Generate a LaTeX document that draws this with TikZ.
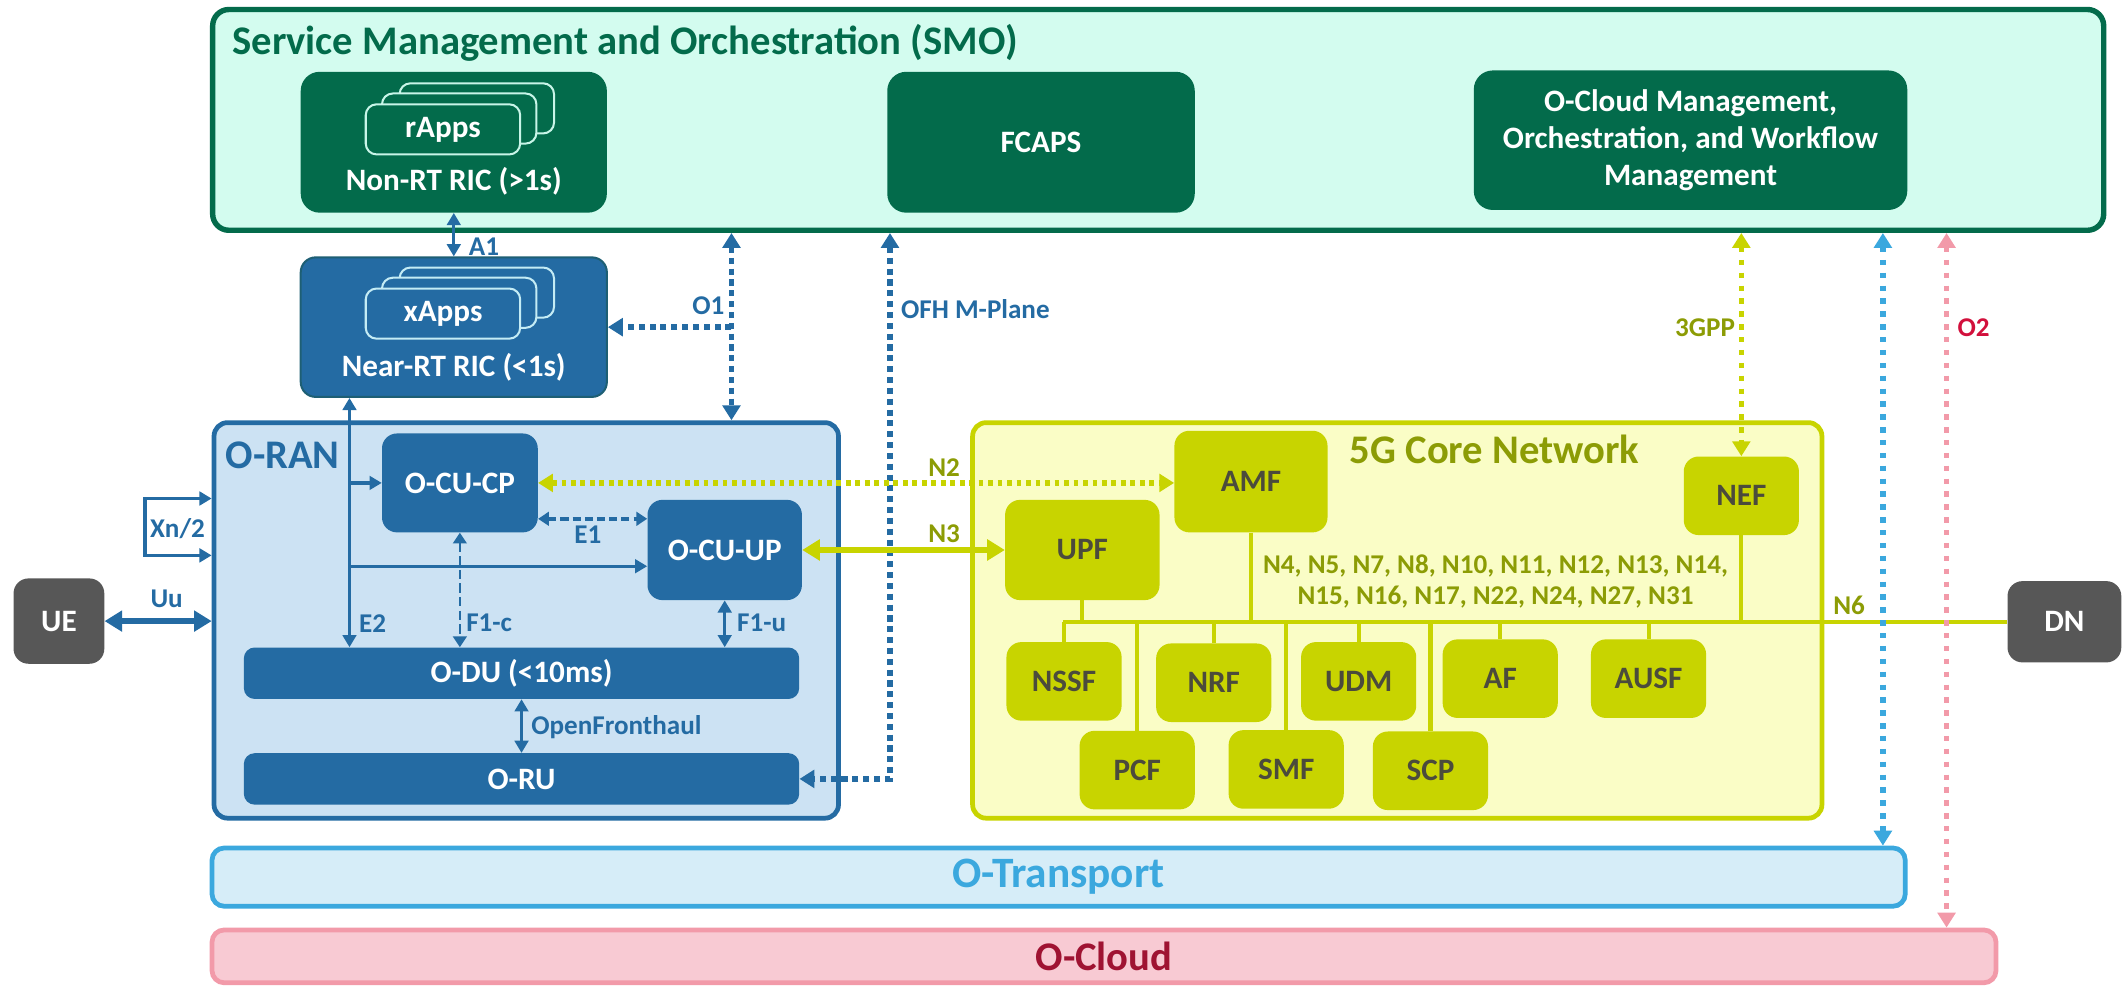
\documentclass[tikz,border=0pt]{standalone}
\usepackage{fontspec}
\setmainfont{Carlito}
\usetikzlibrary{arrows.meta}

\definecolor{smogreen}{HTML}{036B4B}
\definecolor{smofill}{HTML}{D3FCEF}
\definecolor{ranblue}{HTML}{246BA3}
\definecolor{ranfill}{HTML}{CCE2F3}
\definecolor{nearline}{HTML}{1E5F74}
\definecolor{coreline}{HTML}{C8D400}
\definecolor{corefill}{HTML}{FAFDC6}
\definecolor{olive}{HTML}{8C9C05}
\definecolor{nftext}{HTML}{4B4B3C}
\definecolor{darkgrey}{HTML}{575757}
\definecolor{tpblue}{HTML}{3BA8DE}
\definecolor{tpfill}{HTML}{D6EDF8}
\definecolor{cloudline}{HTML}{F29AA9}
\definecolor{cloudfill}{HTML}{F8CAD3}
\definecolor{cloudtext}{HTML}{9F1332}
\definecolor{otwored}{HTML}{D2103C}
\definecolor{cardmint}{HTML}{C8F5E8}
\definecolor{cardcyan}{HTML}{C4ECF5}

\tikzset{
  title font/.style = {font = \fontsize{30}{34}\selectfont\bfseries},
  box font/.style = {font = \fontsize{23}{27.5}\selectfont\bfseries},
  lbl/.style = {font = \fontsize{20}{23}\selectfont\bfseries, text = ranblue, inner sep = 0pt},
  wh/.style 2 args = {minimum width = #1pt, minimum height = #2pt, inner sep = 0pt},
  smo box/.style = {fill = smogreen, rounded corners = 14pt, text = white, box font, align = center},
  ran box/.style = {fill = ranblue, rounded corners = 11pt, text = white, box font},
  nf box/.style = {fill = coreline, rounded corners = 11pt, text = nftext, box font, wh = {85}{58}},
  grey box/.style = {fill = darkgrey, rounded corners = 11pt, text = white, box font},
  card/.style = {draw = #1, line width = 1.5pt, rounded corners = 8pt, wh = {114}{37}},
  blue arrow/.style = {draw = ranblue, line width = 2.5pt, >={Triangle[length = 9pt, width = 10pt]}},
  blue fat arrow/.style = {draw = ranblue, line width = 4pt, >={Triangle[length = 13pt, width = 15pt]}},
  blue dots/.style = {draw = ranblue, line width = 4pt, dash pattern = on 4.5pt off 3.5pt, >={Triangle[length = 11pt, width = 13pt]}},
  blue dashes/.style = {draw = ranblue, line width = 2.5pt, dash pattern = on 6pt off 3pt, >={Triangle[length = 8pt, width = 10pt]}},
  core dots/.style = {draw = coreline, line width = 4pt, dash pattern = on 3.5pt off 3.5pt, >={Triangle[length = 11pt, width = 13pt]}},
  core fat arrow/.style = {draw = coreline, line width = 5pt, >={Triangle[length = 13pt, width = 15pt]}},
  bus line/.style = {draw = coreline, line width = 3pt},
  far dots/.style = {draw = #1, line width = 4pt, dash pattern = on 4pt off 5.5pt, >={Triangle[length = 11pt, width = 13pt]}}
}

\begin{document}
\begin{tikzpicture}[x = 1pt, y = -1pt]
    \useasboundingbox (0, 0) rectangle (1568, 729);

    \node[draw = smogreen, fill = smofill, line width = 4pt, rounded corners = 12pt, wh = {1396}{163}] (smo) at (855, 88.5) {};
    \node[title font, text = smogreen, anchor = west] (smo title) at (168, 32) {Service Management and Orchestration (SMO)};
    \node[smo box, wh = {226}{104}] (non rt ric) at (335, 105) {};
    \node[card = cardmint, fill = smogreen] (rapps back) at (352, 80) {};
    \node[card = cardmint, fill = smogreen] (rapps mid) at (339, 87.5) {};
    \node[card = cardmint, fill = smogreen, box font, text = white] (rapps) at (327, 95.5) {rApps};
    \node[box font, text = white] (non rt text) at (335, 134) {Non-RT RIC (>1s)};
    \node[smo box, wh = {227}{104}] (fcaps) at (768.5, 105) {FCAPS};
    \node[smo box, wh = {320}{103}] (cloud mgmt) at (1248, 103.5) {O-Cloud Management,\\ Orchestration, and Workflow\\ Management};

    \node[ran box, draw = nearline, line width = 1.5pt, wh = {226}{103}] (near rt ric) at (335, 241.5) {};
    \node[card = cardcyan, fill = ranblue] (xapps back) at (352, 216) {};
    \node[card = cardcyan, fill = ranblue] (xapps mid) at (339, 223.5) {};
    \node[card = cardcyan, fill = ranblue, box font, text = white] (xapps) at (327, 231.5) {xApps};
    \node[box font, text = white] (near rt text) at (335, 271) {Near-RT RIC (<1s)};

    \node[draw = ranblue, fill = ranfill, line width = 3.5pt, rounded corners = 10pt, wh = {461}{292}] (o ran) at (388.5, 458) {};
    \node[title font, text = ranblue, anchor = west] (o ran title) at (163, 336) {O-RAN};
    \node[ran box, wh = {115}{73}] (o cu cp) at (339.5, 356.5) {O-CU-CP};
    \node[ran box, wh = {114}{74}] (o cu up) at (535, 406) {O-CU-UP};
    \node[ran box, rounded corners = 8pt, wh = {410}{38}] (o du) at (385, 497) {O-DU (<10ms)};
    \node[ran box, rounded corners = 8pt, wh = {410}{38}] (o ru) at (385, 575) {O-RU};
    \node[grey box, wh = {67}{63}] (ue) at (43.5, 458.5) {UE};

    \node[draw = coreline, fill = corefill, line width = 3.5pt, rounded corners = 10pt, wh = {627}{292}] (core) at (1031.5, 458) {};
    \node[title font, text = olive, anchor = west] (core title) at (993, 332) {5G Core Network};
    \node[nf box, wh = {113}{75}] (amf) at (923.5, 355.5) {AMF};
    \node[nf box, wh = {114}{74}] (upf) at (799, 406) {UPF};
    \node[nf box] (nef) at (1285.5, 366) {NEF};
    \node[nf box] (nssf) at (785.5, 503) {NSSF};
    \node[nf box] (nrf) at (896, 504) {NRF};
    \node[nf box] (udm) at (1003, 503) {UDM};
    \node[nf box] (af) at (1107.5, 501) {AF};
    \node[nf box] (ausf) at (1217, 501) {AUSF};
    \node[nf box] (pcf) at (839.5, 568.5) {PCF};
    \node[nf box] (smf) at (949.5, 568) {SMF};
    \node[nf box] (scp) at (1056, 569) {SCP};
    \node[grey box, wh = {84}{60}] (dn) at (1524, 459) {DN};

    \node[draw = tpblue, fill = tpfill, line width = 3.5pt, rounded corners = 9pt, wh = {1250}{43}, title font, font = \fontsize{32}{34}\selectfont\bfseries, text = tpblue] (o transport) at (781.5, 647.5) {O-Transport};
    \node[draw = cloudline, fill = cloudfill, line width = 3.5pt, rounded corners = 9pt, wh = {1317}{39}, title font, text = cloudtext] (o cloud) at (815, 706) {O-Cloud};

    \coordinate (o1 x) at (540, 0);
    \coordinate (o1 tap) at (540, 241.5);
    \coordinate (ofh x) at (657, 0);
    \coordinate (e2 x) at (258, 0);
    \coordinate (e2 up) at (258, 418);
    \coordinate (e1 y) at (0, 383);
    \coordinate (xn top) at (107, 368);
    \coordinate (xn bottom) at (107, 410);
    \coordinate (bus) at (785, 459);
    \coordinate (tp x) at (1390, 0);
    \coordinate (o2 x) at (1437, 0);

    \draw[blue arrow, <->] (non rt ric.south) -- (near rt ric.north);
    \node[lbl, anchor = west] (a1) at (346, 182) {A1};
    \draw[blue dots, <->] (smo.south -| o1 x) -- (o ran.north -| o1 x);
    \draw[blue dots, ->] (o1 tap) -- (near rt ric.east);
    \node[lbl, anchor = east] (o1) at (535, 226) {O1};
    \draw[blue dots, <->] (smo.south -| ofh x) |- (o ru.east);
    \node[lbl, anchor = west] (ofh) at (665, 228) {OFH M-Plane};

    \draw[blue arrow, <->] (near rt ric.south -| e2 x) -- (o du.north -| e2 x);
    \draw[blue arrow, ->] (o cu cp.west -| e2 x) -- (o cu cp.west);
    \draw[blue arrow, ->] (e2 up) -- (o cu up.west |- e2 up);
    \node[lbl, anchor = west] (e2) at (265, 460) {E2};
    \draw[blue dashes, <->] (o cu cp.east |- e1 y) -- (o cu up.west |- e1 y);
    \node[lbl] (e1) at (434, 395) {E1};
    \draw[blue dashes, line width = 2pt, dash pattern = on 7pt off 3pt, <->] (o cu cp.south) -- (o du.north -| o cu cp.south);
    \node[lbl, anchor = west] (f1c) at (344, 460) {F1-c};
    \draw[blue arrow, <->] (o cu up.south) -- (o du.north -| o cu up.south);
    \node[lbl, anchor = west] (f1u) at (544, 460) {F1-u};
    \draw[blue arrow, <->] (o du.south) -- (o ru.north);
    \node[lbl, anchor = west] (fronthaul) at (392, 537) {OpenFronthaul};

    \draw[blue arrow, <->] (o ran.west |- xn top) -- (xn top) -- (xn bottom) -- (o ran.west |- xn bottom);
    \node[lbl] (xn) at (131, 390) {Xn/2};
    \draw[blue fat arrow, <->] (ue.east) -- (o ran.west |- ue.east);
    \node[lbl] (uu) at (123, 442) {Uu};

    \draw[core dots, <->] (o cu cp.east) -- (amf.west |- o cu cp.east);
    \node[lbl, text = olive] (n2) at (697, 345) {N2};
    \draw[core fat arrow, <->] (o cu up.east) -- (upf.west);
    \node[lbl, text = olive] (n3) at (697, 394) {N3};

    \draw[bus line] (bus) -- (dn.west);
    \draw[bus line] (upf.south) -- (upf.south |- bus);
    \draw[bus line] (amf.south) -- (amf.south |- bus);
    \draw[bus line] (nef.south) -- (nef.south |- bus);
    \draw[bus line] (nssf.north) -- (nssf.north |- bus);
    \draw[bus line] (nrf.north) -- (nrf.north |- bus);
    \draw[bus line] (udm.north) -- (udm.north |- bus);
    \draw[bus line] (af.north) -- (af.north |- bus);
    \draw[bus line] (ausf.north) -- (ausf.north |- bus);
    \draw[bus line] (pcf.north) -- (pcf.north |- bus);
    \draw[bus line] (smf.north) -- (smf.north |- bus);
    \draw[bus line] (scp.north) -- (scp.north |- bus);
    \node[lbl, text = olive, align = center] (n list) at (1104, 429) {N4, N5, N7, N8, N10, N11, N12, N13, N14,\\ N15, N16, N17, N22, N24, N27, N31};
    \node[lbl, text = olive] (n6) at (1365, 447) {N6};

    \draw[far dots = coreline, <->] (smo.south -| nef.north) -- (nef.north);
    \node[lbl, text = olive, anchor = east] (gpp) at (1281, 242) {3GPP};
    \draw[far dots = tpblue, <->] (smo.south -| tp x) -- (o transport.north -| tp x);
    \draw[far dots = cloudline, <->] (smo.south -| o2 x) -- (o cloud.north -| o2 x);
    \node[lbl, text = otwored, anchor = west] (o2) at (1445, 242) {O2};
\end{tikzpicture}
\end{document}
